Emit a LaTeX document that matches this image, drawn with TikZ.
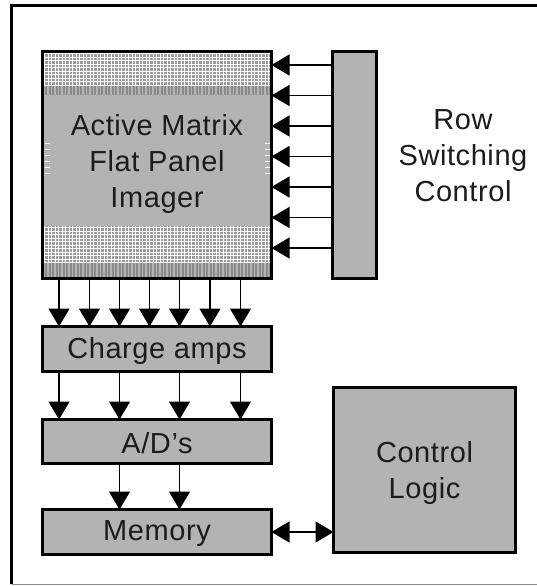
\documentclass[tikz,border=0pt]{standalone}
\usepackage{fontspec}
\setmainfont{Liberation Sans}[LetterSpace=2]
\usetikzlibrary{arrows.meta}
\definecolor{boxgray}{HTML}{B3B3B3}
\definecolor{gridgray}{HTML}{9C9C9C}
\definecolor{stripedark}{HTML}{8A8A8A}
\definecolor{inkgray}{HTML}{1C1C1C}
\tikzset{
  box/.style={draw=black, line width=3pt, fill=boxgray, inner sep=0pt, outer sep=0pt},
  lbl/.style={text=inkgray, font=\fontsize{29}{36}\selectfont, align=center},
  arr/.style={line width=1.3pt, -{Triangle[length=18pt,width=21pt]}},
  darr/.style={line width=1.3pt, {Triangle[length=18pt,width=21pt]}-{Triangle[length=18pt,width=21pt]}}
}
\begin{document}
\begin{tikzpicture}[x=1pt, y=-1pt]
\useasboundingbox (0,0) rectangle (537,586);
% outer frame
\draw[line width=3pt] (11.5,584) -- (11.5,5.5) -- (537,5.5);
\draw[line width=0.8pt, black!45] (11.5,584) -- (537,584);

% blocks
\node[box, minimum width=229pt, minimum height=227pt] (imager) at (157,165) {};
\node[box, minimum width=44pt, minimum height=227pt] (bar) at (354.5,165) {};
\node[box, minimum width=229pt, minimum height=45pt] (amps) at (157,349) {};
\node[box, minimum width=229pt, minimum height=44pt] (adc) at (157,441.5) {};
\node[box, minimum width=229pt, minimum height=45pt] (mem) at (157,532) {};
\node[box, minimum width=182pt, minimum height=165pt] (ctrl) at (424.5,470) {};

% pixel-grid bands of the imager
\foreach \ya/\yb/\yc in {52/86/95, 226/263/278} {
  \fill[gridgray] (43,\ya) rectangle (271,\yb);
  \fill[boxgray] (43,\yb) rectangle (271,\yc);
  \foreach \x in {44.5,48,...,270} {
    \draw[white, line width=0.9pt] (\x,\ya) -- (\x,\yb);
    \draw[stripedark, line width=1.6pt] (\x+1.75,\yb) -- (\x+1.75,\yc);
  }
  \pgfmathsetmacro{\yfirst}{\ya+1.5}
  \pgfmathsetmacro{\ysecond}{\ya+5}
  \foreach \y in {\yfirst,\ysecond,...,\yb} {
    \draw[white, line width=0.9pt] (43,\y) -- (271,\y);
  }
}
% edge ticks on the imager sides
\foreach \y in {143,149,...,174} {
  \draw[white, line width=0.9pt] (45,\y) -- (50,\y);
  \draw[white, line width=0.9pt] (265,\y) -- (270,\y);
}
\draw[line width=3pt] (imager.north west) rectangle (imager.south east);

% labels
\node[lbl] at (157,164) {Active Matrix\\Flat Panel\\Imager};
\node[lbl] at (463,156) {Row\\Switching\\Control};
\node[lbl] at (157,351) {Charge amps};
\node[lbl] at (157,443.5) {A/D’s};
\node[lbl] at (157,534) {Memory};
\node[lbl] at (424.5,473) {Control\\Logic};

% row select lines
\foreach \y in {65,95.5,126,156.5,187,217.5,248} {
  \draw[arr] (bar.west |- 0,\y) -- (imager.east |- 0,\y);
}
% column read-out lines
\foreach \x in {59,89.5,119.5,149.5,179.5,210,240.5} {
  \draw[arr] (imager.south -| \x,0) -- (amps.north -| \x,0);
}
\foreach \x in {59,119.5,179.5,240.5} {
  \draw[arr] (amps.south -| \x,0) -- (adc.north -| \x,0);
}
\foreach \x in {119.5,179.5} {
  \draw[arr] (adc.south -| \x,0) -- (mem.north -| \x,0);
}
% memory <-> control logic
\draw[darr] (mem.east |- 0,532) -- (ctrl.west |- 0,532);
\end{tikzpicture}
\end{document}
